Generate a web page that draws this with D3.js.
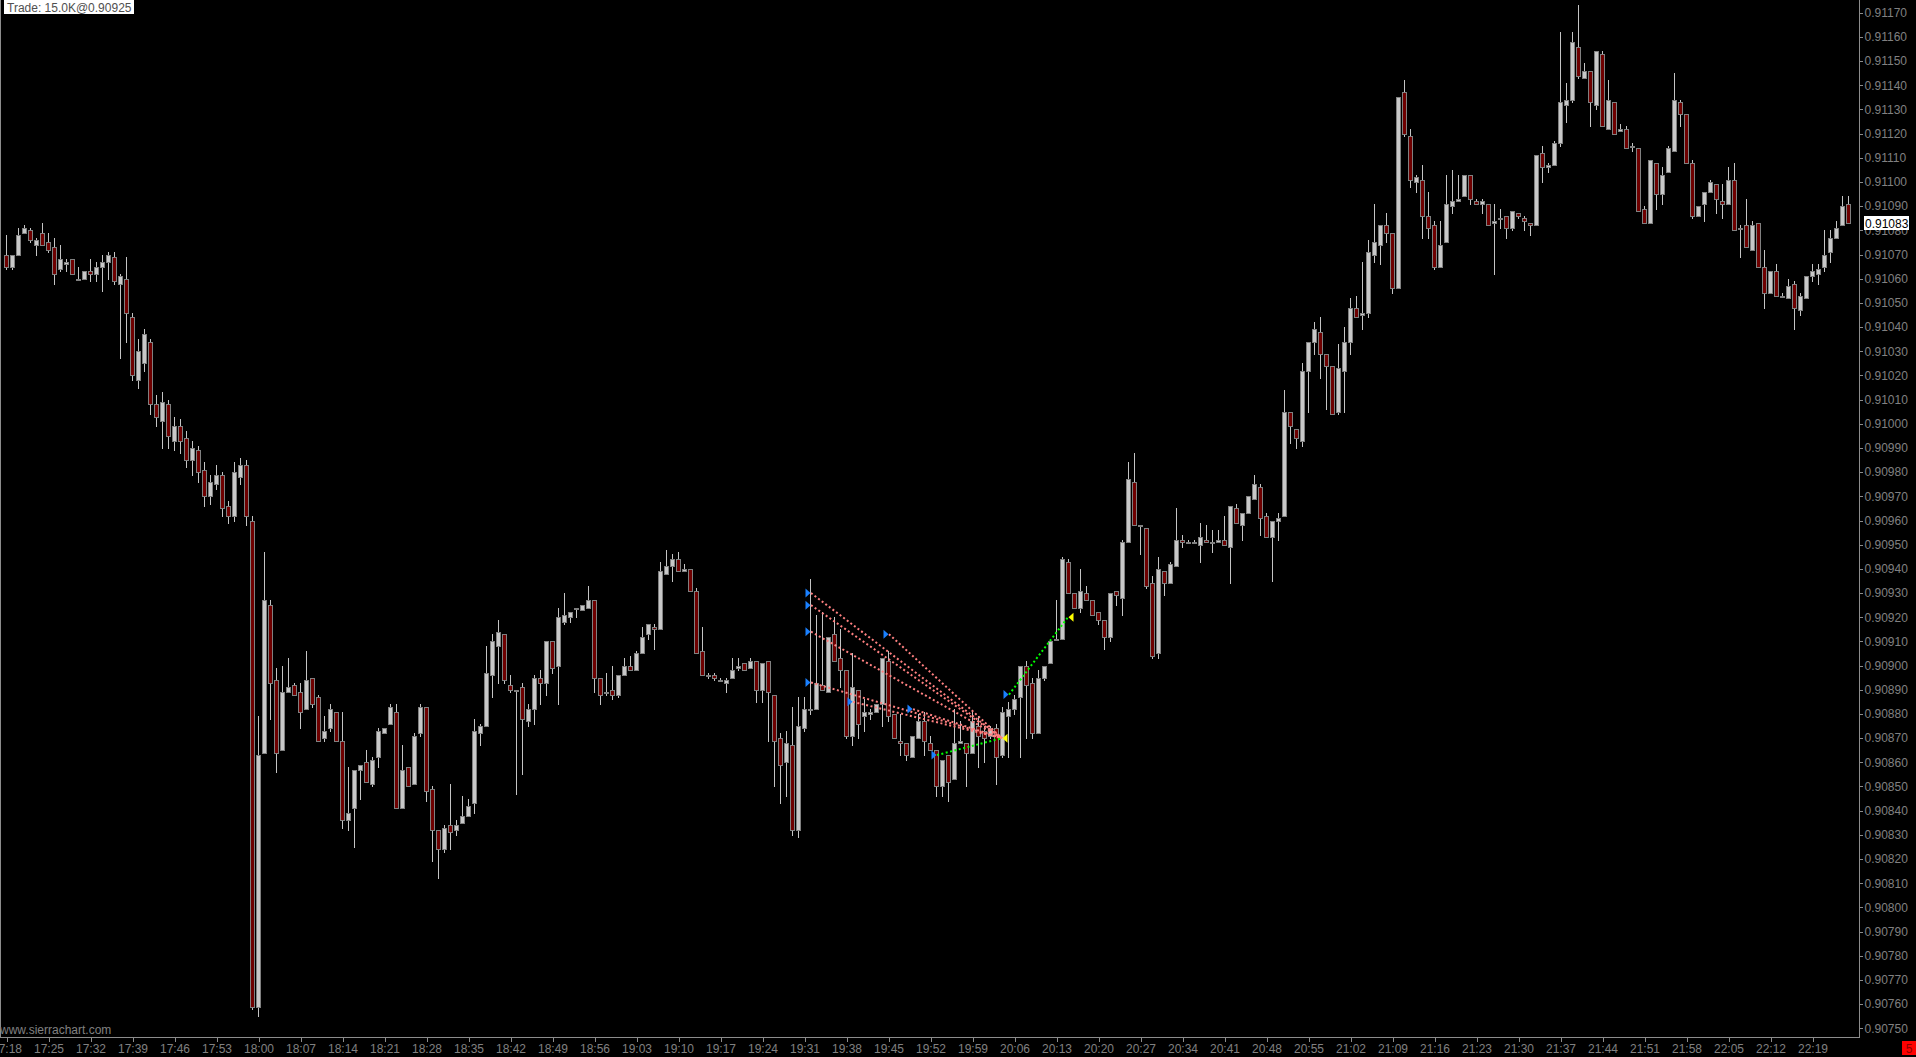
<!DOCTYPE html>
<html><head><meta charset="utf-8">
<script src="https://cdn.jsdelivr.net/npm/d3@7"></script>
<style>
html,body{margin:0;padding:0;background:#000;overflow:hidden}
svg{display:block}
text{font-family:"Liberation Sans",Arial,sans-serif}
</style></head><body>
<svg id="c" width="1916" height="1057"></svg>
<script>
// ---------- DATA (1-minute bars from 17:18) ----------
const open = [
0.91070,0.91065,0.91070,0.91079,0.91080,0.91074,0.91079,0.91075,0.91073,0.91064,
0.91066,0.91068,0.91060,0.91060,0.91063,0.91062,0.91065,0.91067,0.91069,0.91058,
0.91060,0.91044,0.91018,0.91025,0.91034,0.91008,0.91001,0.91008,0.90993,0.90999,
0.90994,0.90985,0.90989,0.90981,0.90970,0.90975,0.90979,0.90966,0.90962,0.90978,
0.90983,0.90960,0.90759,0.90864,0.90925,0.90894,0.90865,0.90889,0.90892,0.90889,
0.90882,0.90895,0.90887,0.90870,0.90874,0.90881,0.90869,0.90836,0.90841,0.90857,
0.90860,0.90851,0.90862,0.90872,0.90876,0.90881,0.90841,0.90858,0.90851,0.90872,
0.90883,0.90849,0.90832,0.90824,0.90834,0.90832,0.90835,0.90838,0.90843,0.90872,
0.90875,0.90896,0.90908,0.90913,0.90892,0.90890,0.90891,0.90877,0.90882,0.90895,
0.90893,0.90910,0.90900,0.90918,0.90920,0.90924,0.90923,0.90924,0.90927,0.90895,
0.90889,0.90890,0.90888,0.90896,0.90900,0.90898,0.90905,0.90913,0.90916,0.90915,
0.90938,0.90941,0.90944,0.90939,0.90940,0.90931,0.90906,0.90896,0.90896,0.90894,
0.90893,0.90895,0.90899,0.90901,0.90899,0.90902,0.90890,0.90902,0.90888,0.90870,
0.90860,0.90867,0.90832,0.90874,0.90882,0.90882,0.90892,0.90889,0.90913,0.90903,
0.90898,0.90871,0.90890,0.90879,0.90880,0.90881,0.90884,0.90902,0.90880,0.90869,
0.90868,0.90862,0.90870,0.90877,0.90868,0.90865,0.90850,0.90863,0.90853,0.90868,
0.90868,0.90864,0.90875,0.90873,0.90871,0.90874,0.90863,0.90879,0.90882,0.90887,
0.90900,0.90893,0.90872,0.90895,0.90901,0.90911,0.90911,0.90943,0.90930,0.90924,
0.90930,0.90927,0.90922,0.90919,0.90912,0.90931,0.90928,0.90951,0.90976,0.90958,
0.90957,0.90934,0.90905,0.90939,0.90934,0.90941,0.90952,0.90951,0.90951,0.90950,
0.90952,0.90951,0.90951,0.90952,0.90949,0.90965,0.90958,0.90963,0.90969,0.90974,
0.90962,0.90953,0.90960,0.90962,0.91005,0.90998,0.90993,0.91022,0.91034,0.91038,
0.91029,0.91024,0.91005,0.91022,0.91034,0.91048,0.91045,0.91046,0.91070,0.91074,
0.91082,0.91079,0.91056,0.91137,0.91119,0.91100,0.91101,0.91086,0.91082,0.91065,
0.91075,0.91090,0.91092,0.91094,0.91103,0.91092,0.91091,0.91091,0.91083,0.91085,
0.91086,0.91081,0.91087,0.91085,0.91083,0.91082,0.91112,0.91106,0.91107,0.91116,
0.91132,0.91134,0.91156,0.91143,0.91146,0.91132,0.91153,0.91122,0.91133,0.91121,
0.91122,0.91115,0.91114,0.91089,0.91083,0.91108,0.91095,0.91104,0.91113,0.91133,
0.91128,0.91108,0.91086,0.91091,0.91096,0.91099,0.91092,0.91091,0.91101,0.91081,
0.91082,0.91072,0.91083,0.91065,0.91054,0.91063,0.91053,0.91052,0.91058,0.91047,
0.91052,0.91061,0.91062,0.91065,0.91071,0.91077,0.91082,0.91091];
const high = [
0.91078,0.91070,0.91081,0.91082,0.91081,0.91077,0.91083,0.91079,0.91077,0.91074,
0.91068,0.91068,0.91065,0.91063,0.91068,0.91067,0.91070,0.91071,0.91071,0.91062,
0.91069,0.91046,0.91035,0.91039,0.91035,0.91012,0.91013,0.91010,0.91003,0.91002,
0.90997,0.90993,0.90991,0.90984,0.90979,0.90983,0.90980,0.90968,0.90984,0.90986,
0.90985,0.90962,0.90879,0.90947,0.90927,0.90899,0.90900,0.90903,0.90893,0.90893,
0.90906,0.90895,0.90888,0.90879,0.90884,0.90881,0.90881,0.90858,0.90857,0.90859,
0.90865,0.90862,0.90874,0.90874,0.90884,0.90884,0.90867,0.90858,0.90872,0.90884,
0.90883,0.90850,0.90832,0.90834,0.90851,0.90836,0.90846,0.90845,0.90878,0.90876,
0.90908,0.90913,0.90919,0.90913,0.90896,0.90890,0.90893,0.90884,0.90896,0.90898,
0.90910,0.90910,0.90924,0.90930,0.90922,0.90924,0.90925,0.90933,0.90927,0.90895,
0.90897,0.90900,0.90896,0.90903,0.90904,0.90906,0.90916,0.90917,0.90917,0.90943,
0.90948,0.90946,0.90947,0.90942,0.90940,0.90932,0.90916,0.90897,0.90897,0.90895,
0.90895,0.90903,0.90903,0.90901,0.90903,0.90902,0.90901,0.90902,0.90888,0.90872,
0.90873,0.90883,0.90887,0.90887,0.90936,0.90921,0.90922,0.90912,0.90920,0.90915,
0.90898,0.90905,0.90890,0.90886,0.90882,0.90884,0.90903,0.90906,0.90880,0.90880,
0.90868,0.90871,0.90880,0.90881,0.90871,0.90865,0.90861,0.90863,0.90882,0.90877,
0.90868,0.90881,0.90879,0.90875,0.90875,0.90876,0.90883,0.90885,0.90888,0.90900,
0.90902,0.90895,0.90898,0.90900,0.90910,0.90927,0.90945,0.90944,0.90930,0.90940,
0.90933,0.90927,0.90922,0.90919,0.90930,0.90931,0.90952,0.90984,0.90988,0.90958,
0.90957,0.90937,0.90945,0.90939,0.90943,0.90965,0.90954,0.90952,0.90952,0.90959,
0.90958,0.90956,0.90956,0.90962,0.90966,0.90967,0.90963,0.90970,0.90979,0.90975,
0.90963,0.90960,0.90963,0.91014,0.91005,0.90998,0.91025,0.91034,0.91042,0.91044,
0.91029,0.91024,0.91033,0.91040,0.91052,0.91053,0.91067,0.91076,0.91091,0.91082,
0.91087,0.91079,0.91135,0.91142,0.91122,0.91103,0.91107,0.91096,0.91084,0.91084,
0.91103,0.91105,0.91103,0.91103,0.91103,0.91093,0.91093,0.91091,0.91091,0.91089,
0.91086,0.91088,0.91087,0.91086,0.91083,0.91111,0.91115,0.91108,0.91117,0.91162,
0.91141,0.91162,0.91173,0.91149,0.91146,0.91154,0.91154,0.91142,0.91133,0.91124,
0.91123,0.91116,0.91114,0.91090,0.91109,0.91108,0.91106,0.91115,0.91145,0.91134,
0.91128,0.91109,0.91090,0.91096,0.91101,0.91099,0.91099,0.91106,0.91108,0.91082,
0.91093,0.91084,0.91083,0.91072,0.91063,0.91066,0.91054,0.91060,0.91059,0.91054,
0.91061,0.91066,0.91066,0.91080,0.91080,0.91084,0.91094,0.91094];
const low = [
0.91064,0.91064,0.91070,0.91079,0.91075,0.91070,0.91074,0.91071,0.91058,0.91063,
0.91063,0.91062,0.91060,0.91060,0.91059,0.91059,0.91055,0.91060,0.91058,0.91027,
0.91034,0.91018,0.91015,0.91022,0.91004,0.90999,0.90990,0.90990,0.90989,0.90988,
0.90982,0.90979,0.90976,0.90966,0.90967,0.90973,0.90962,0.90959,0.90960,0.90975,
0.90958,0.90758,0.90755,0.90864,0.90878,0.90856,0.90865,0.90889,0.90888,0.90874,
0.90882,0.90883,0.90869,0.90869,0.90873,0.90869,0.90833,0.90832,0.90825,0.90845,
0.90852,0.90850,0.90858,0.90872,0.90876,0.90841,0.90841,0.90850,0.90851,0.90871,
0.90844,0.90819,0.90812,0.90823,0.90824,0.90830,0.90835,0.90838,0.90839,0.90867,
0.90875,0.90887,0.90893,0.90893,0.90889,0.90847,0.90855,0.90875,0.90876,0.90884,
0.90888,0.90897,0.90884,0.90917,0.90918,0.90920,0.90923,0.90924,0.90889,0.90884,
0.90888,0.90886,0.90887,0.90896,0.90898,0.90898,0.90905,0.90911,0.90907,0.90915,
0.90938,0.90935,0.90939,0.90939,0.90931,0.90905,0.90896,0.90895,0.90894,0.90894,
0.90889,0.90895,0.90898,0.90898,0.90899,0.90885,0.90885,0.90869,0.90850,0.90843,
0.90846,0.90830,0.90829,0.90873,0.90880,0.90882,0.90890,0.90889,0.90902,0.90891,
0.90870,0.90867,0.90870,0.90873,0.90878,0.90881,0.90875,0.90877,0.90870,0.90863,
0.90861,0.90862,0.90870,0.90863,0.90865,0.90846,0.90846,0.90844,0.90853,0.90868,
0.90850,0.90864,0.90858,0.90860,0.90870,0.90851,0.90862,0.90862,0.90880,0.90862,
0.90870,0.90870,0.90872,0.90894,0.90901,0.90911,0.90911,0.90930,0.90924,0.90922,
0.90927,0.90921,0.90917,0.90907,0.90910,0.90925,0.90921,0.90951,0.90958,0.90946,
0.90932,0.90903,0.90903,0.90929,0.90934,0.90941,0.90949,0.90951,0.90951,0.90943,
0.90951,0.90947,0.90951,0.90950,0.90934,0.90959,0.90952,0.90963,0.90969,0.90954,
0.90953,0.90935,0.90952,0.90962,0.90992,0.90990,0.90991,0.91005,0.91029,0.91019,
0.91006,0.91004,0.91004,0.91005,0.91029,0.91044,0.91039,0.91044,0.91067,0.91066,
0.91075,0.91054,0.91056,0.91119,0.91098,0.91096,0.91077,0.91077,0.91064,0.91065,
0.91075,0.91087,0.91092,0.91094,0.91091,0.91091,0.91087,0.91082,0.91062,0.91081,
0.91077,0.91080,0.91085,0.91080,0.91078,0.91082,0.91100,0.91104,0.91107,0.91115,
0.91125,0.91133,0.91143,0.91143,0.91123,0.91130,0.91123,0.91122,0.91120,0.91121,
0.91114,0.91113,0.91088,0.91083,0.91083,0.91089,0.91091,0.91104,0.91113,0.91123,
0.91108,0.91085,0.91086,0.91084,0.91096,0.91087,0.91085,0.91091,0.91080,0.91069,
0.91073,0.91072,0.91065,0.91048,0.91054,0.91053,0.91053,0.91052,0.91039,0.91045,
0.91052,0.91059,0.91058,0.91063,0.91067,0.91077,0.91082,0.91083];
const close = [
0.91065,0.91070,0.91078,0.91081,0.91076,0.91076,0.91074,0.91072,0.91062,0.91068,
0.91067,0.91062,0.91060,0.91063,0.91062,0.91065,0.91067,0.91070,0.91059,0.91061,
0.91046,0.91020,0.91030,0.91037,0.91008,0.91003,0.91009,0.90995,0.90999,0.90993,
0.90985,0.90990,0.90980,0.90970,0.90976,0.90979,0.90965,0.90962,0.90980,0.90983,
0.90962,0.90759,0.90863,0.90927,0.90893,0.90864,0.90889,0.90891,0.90888,0.90881,
0.90894,0.90884,0.90869,0.90873,0.90882,0.90869,0.90836,0.90839,0.90857,0.90859,
0.90852,0.90861,0.90873,0.90874,0.90883,0.90841,0.90857,0.90850,0.90871,0.90883,
0.90848,0.90832,0.90824,0.90833,0.90831,0.90834,0.90838,0.90842,0.90873,0.90875,
0.90897,0.90910,0.90914,0.90894,0.90890,0.90890,0.90878,0.90882,0.90895,0.90893,
0.90910,0.90899,0.90920,0.90921,0.90922,0.90924,0.90925,0.90927,0.90895,0.90888,
0.90889,0.90888,0.90896,0.90900,0.90898,0.90905,0.90912,0.90917,0.90915,0.90939,
0.90941,0.90944,0.90939,0.90940,0.90931,0.90905,0.90896,0.90896,0.90895,0.90894,
0.90894,0.90898,0.90900,0.90898,0.90902,0.90890,0.90901,0.90889,0.90869,0.90859,
0.90868,0.90832,0.90875,0.90882,0.90882,0.90893,0.90890,0.90912,0.90902,0.90898,
0.90871,0.90891,0.90876,0.90881,0.90881,0.90884,0.90903,0.90879,0.90870,0.90868,
0.90863,0.90871,0.90877,0.90869,0.90865,0.90850,0.90861,0.90852,0.90868,0.90869,
0.90864,0.90877,0.90871,0.90870,0.90874,0.90862,0.90881,0.90882,0.90886,0.90900,
0.90892,0.90872,0.90895,0.90900,0.90910,0.90911,0.90944,0.90930,0.90924,0.90931,
0.90927,0.90921,0.90919,0.90912,0.90930,0.90929,0.90951,0.90977,0.90958,0.90958,
0.90933,0.90904,0.90940,0.90934,0.90942,0.90952,0.90951,0.90951,0.90951,0.90953,
0.90951,0.90951,0.90952,0.90950,0.90966,0.90959,0.90963,0.90970,0.90975,0.90961,
0.90953,0.90960,0.90961,0.91005,0.90999,0.90994,0.91022,0.91034,0.91039,0.91029,
0.91024,0.91004,0.91023,0.91034,0.91048,0.91044,0.91046,0.91071,0.91075,0.91082,
0.91079,0.91056,0.91135,0.91120,0.91101,0.91102,0.91086,0.91081,0.91065,0.91074,
0.91091,0.91092,0.91093,0.91103,0.91093,0.91091,0.91092,0.91082,0.91084,0.91085,
0.91081,0.91088,0.91086,0.91084,0.91082,0.91111,0.91106,0.91107,0.91116,0.91133,
0.91134,0.91158,0.91144,0.91146,0.91133,0.91154,0.91123,0.91134,0.91120,0.91122,
0.91114,0.91115,0.91088,0.91083,0.91109,0.91095,0.91103,0.91114,0.91134,0.91128,
0.91108,0.91086,0.91090,0.91096,0.91100,0.91093,0.91091,0.91101,0.91080,0.91081,
0.91073,0.91082,0.91065,0.91054,0.91063,0.91053,0.91053,0.91057,0.91048,0.91053,
0.91061,0.91063,0.91064,0.91070,0.91077,0.91081,0.91090,0.91083];

const xTickLabels = ["17:18","17:25","17:32","17:39","17:46","17:53","18:00","18:07","18:14","18:21","18:28","18:35","18:42","18:49","18:56","19:03","19:10","19:17","19:24","19:31","19:38","19:45","19:52","19:59","20:06","20:13","20:20","20:27","20:34","20:41","20:48","20:55","21:02","21:09","21:16","21:23","21:30","21:37","21:44","21:51","21:58","22:05","22:12","22:19"];
const barsPerLabel = 7;
const yTickValues = [0.90750,0.90760,0.90770,0.90780,0.90790,0.90800,0.90810,0.90820,0.90830,0.90840,0.90850,0.90860,0.90870,0.90880,0.90890,0.90900,0.90910,0.90920,0.90930,0.90940,0.90950,0.90960,0.90970,0.90980,0.90990,0.91000,0.91010,0.91020,0.91030,0.91040,0.91050,0.91060,0.91070,0.91080,0.91090,0.91100,0.91110,0.91120,0.91130,0.91140,0.91150,0.91160,0.91170];
const lastPrice = 0.91083;
const tradeText = "Trade: 15.0K@0.90925";

// trades: entry bar/price -> exit bar/price
const entryBar   = [134,134,134,134,141,147,151,155,167];
const entryPrice = [0.90930,0.90925,0.90914,0.90893,0.90885,0.90913,0.90882,0.90863,0.90888];
const exitBar    = [166,166,166,166,166,166,166,166,177];
const exitPrice  = [0.90870,0.90870,0.90870,0.90870,0.90870,0.90870,0.90870,0.90870,0.90920];
const tradeWin   = [false,false,false,false,false,false,false,true,true];

// ---------- DRAW ----------
const W = 1916, H = 1057;
const plotRight = 1859, plotBottom = 1037;
const svg = d3.select("#c");
svg.append("rect").attr("width",W).attr("height",H).attr("fill","#000");

const x = d3.scaleLinear().domain([0, open.length-1]).range([6, 6 + 6*(open.length-1)]);
const y = d3.scaleLinear().domain([0.90750, 0.91170]).range([1028.3, 12.7]);

const bars = open.map((o,i)=>({i, o, h:high[i], l:low[i], c:close[i]}));
const g = svg.append("g");

// wicks
g.selectAll("line.w").data(bars).join("line")
  .attr("x1", d=>Math.round(x(d.i))+0.5).attr("x2", d=>Math.round(x(d.i))+0.5)
  .attr("y1", d=>Math.round(y(d.h))).attr("y2", d=>Math.round(y(d.l))+1)
  .attr("stroke","#c4c4c4").attr("stroke-width",1).attr("shape-rendering","crispEdges");

// bodies
g.selectAll("rect.b").data(bars).join("rect")
  .attr("x", d=>Math.round(x(d.i))-1.5)
  .attr("y", d=>Math.round(y(Math.max(d.o,d.c)))+0.5)
  .attr("width", 4)
  .attr("height", d=>{const t=Math.round(y(Math.max(d.o,d.c))), b=Math.round(y(Math.min(d.o,d.c))); return Math.max(1,b-t);})
  .attr("fill", d=> d.c < d.o ? "#6e0000" : (d.c > d.o ? "#c8c8c8" : "#808080"))
  .attr("stroke","#808080").attr("stroke-width",1).attr("shape-rendering","crispEdges");

// trade lines
const trades = entryBar.map((b,k)=>({b, p:entryPrice[k], eb:exitBar[k], ep:exitPrice[k], win:tradeWin[k]}));
svg.append("g").selectAll("line").data(trades).join("line")
  .attr("x1", d=>x(d.b)+1).attr("y1", d=>y(d.p))
  .attr("x2", d=>x(d.eb)).attr("y2", d=>y(d.ep))
  .attr("stroke", d=>d.win ? "#00ff00" : "#ff8080")
  .attr("stroke-width",2).attr("stroke-dasharray","2,2.5");

// entry markers (blue right-pointing)
svg.append("g").selectAll("path").data(trades).join("path")
  .attr("d", d=>{const tx=x(d.b)+0.5, ty=y(d.p); return `M${tx-5},${ty-4.5}L${tx},${ty}L${tx-5},${ty+4.5}Z`;})
  .attr("fill","#1a80ff");
// exit markers (yellow left-pointing)
const exits = Array.from(new Set(trades.map(t=>t.eb+"|"+t.ep))).map(s=>{const [b,p]=s.split("|"); return {b:+b,p:+p};});
svg.append("g").selectAll("path").data(exits).join("path")
  .attr("d", d=>{const tx=x(d.b)+0.5, ty=y(d.p); return `M${tx+5},${ty-4.5}L${tx},${ty}L${tx+5},${ty+4.5}Z`;})
  .attr("fill","#ffff00");

// frame lines
svg.append("line").attr("x1",0.5).attr("x2",0.5).attr("y1",0).attr("y2",plotBottom)
  .attr("stroke","#8c8c8c").attr("stroke-width",1);
svg.append("line").attr("x1",plotRight+0.5).attr("x2",plotRight+0.5).attr("y1",0).attr("y2",plotBottom+0.5)
  .attr("stroke","#8c8c8c").attr("stroke-width",1);
svg.append("line").attr("x1",0).attr("x2",plotRight+1).attr("y1",plotBottom+0.5).attr("y2",plotBottom+0.5)
  .attr("stroke","#8c8c8c").attr("stroke-width",1);

// y axis
const yAxis = d3.axisRight(y).tickValues(yTickValues).tickFormat(d3.format(".5f")).tickSize(3).tickSizeOuter(0).tickPadding(2);
const ya = svg.append("g").attr("transform",`translate(${plotRight+0.5},0)`).call(yAxis);
ya.select(".domain").remove();
ya.selectAll("line").attr("stroke","#8c8c8c").attr("shape-rendering","crispEdges");
ya.selectAll("text").attr("fill","#808080").attr("font-size",12).attr("font-family","'Liberation Sans',Arial,sans-serif");

// x axis
const xTickIdx = xTickLabels.map((_,k)=>k*barsPerLabel);
const xAxis = d3.axisBottom(x).tickValues(xTickIdx).tickFormat((d,k)=>xTickLabels[k]).tickSize(4).tickSizeOuter(0).tickPadding(3);
const xa = svg.append("g").attr("transform",`translate(0.5,${plotBottom+0.5})`).call(xAxis);
xa.select(".domain").remove();
xa.selectAll("line").attr("stroke","#8c8c8c").attr("shape-rendering","crispEdges");
xa.selectAll("text").attr("fill","#808080").attr("font-size",12).attr("font-family","'Liberation Sans',Arial,sans-serif");

// last price label
const ly = y(lastPrice);
svg.append("rect").attr("x",1864).attr("y",Math.round(ly)-7).attr("width",45).attr("height",14).attr("fill","#fff");
svg.append("text").attr("x",1865).attr("y",Math.round(ly)+4.5).attr("font-size",12).attr("fill","#000").text(d3.format(".5f")(lastPrice));

// top-left trade label
svg.append("rect").attr("x",4).attr("y",0).attr("width",130).attr("height",14).attr("fill","#fff");
svg.append("text").attr("x",7).attr("y",11.5).attr("font-size",12).attr("fill","#505050").text(tradeText);

// watermark
svg.append("text").attr("x",0).attr("y",1034).attr("font-size",12).attr("fill","#808080").text("www.sierrachart.com");

// bottom-right red box
svg.append("rect").attr("x",1902).attr("y",1041).attr("width",14).attr("height",14).attr("fill","#ff0000");
svg.append("text").attr("x",1909).attr("y",1052.5).attr("text-anchor","middle").attr("font-size",12).attr("fill","#8b0000").text("5");
</script>
</body></html>
